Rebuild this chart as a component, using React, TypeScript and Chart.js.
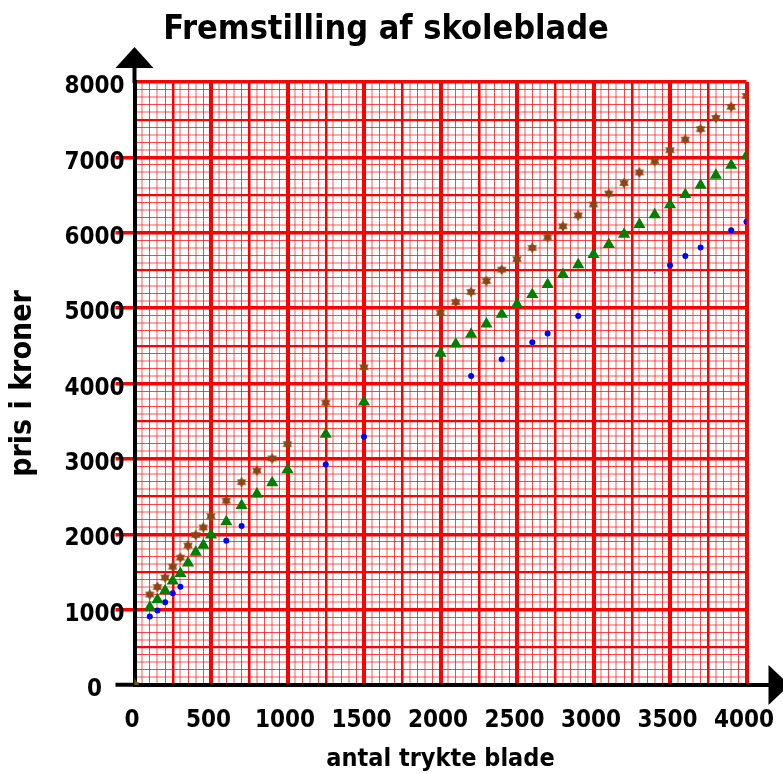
import React, { useEffect, useRef } from "react";
import { Chart, registerables } from "chart.js";

Chart.register(...registerables);

// ---- text ----
const chartTitle = "Fremstilling af skoleblade";
const xAxisTitle = "antal trykte blade";
const yAxisTitle = "pris i kroner";

// ---- axes ----
const xMin = 0;
const xMax = 4000;
const xStep = 50;
const xLabelEvery = 500;
const yMin = 0;
const yMax = 8000;
const yStep = 100;
const yLabelEvery = 1000;

// ---- series: brown stars ----
const starX = [0, 100, 150, 200, 250, 300, 350, 400, 450, 500, 600, 700, 800, 900, 1000, 1250, 1500,
  2000, 2100, 2200, 2300, 2400, 2500, 2600, 2700, 2800, 2900, 3000, 3100, 3200, 3300, 3400, 3500,
  3600, 3700, 3800, 3900, 4000];
const starY = [0, 1200, 1300, 1425, 1570, 1690, 1850, 1990, 2090, 2240, 2445, 2690, 2845, 3005, 3195, 3745, 4215,
  4940, 5080, 5215, 5360, 5510, 5650, 5800, 5940, 6085, 6230, 6375, 6520, 6660, 6800, 6950, 7095,
  7237, 7375, 7524, 7670, 7815];

// ---- series: green triangles ----
const triX = [0, 100, 150, 200, 250, 300, 350, 400, 450, 500, 600, 700, 800, 900, 1000, 1250, 1500,
  2000, 2100, 2200, 2300, 2400, 2500, 2600, 2700, 2800, 2900, 3000, 3100, 3200, 3300, 3400, 3500,
  3600, 3700, 3800, 3900, 4000];
const triY = [0, 1030, 1130, 1250, 1380, 1480, 1620, 1760, 1855, 1990, 2165, 2380, 2533, 2683, 2855, 3327, 3753,
  4400, 4523, 4655, 4790, 4920, 5053, 5181, 5314, 5447, 5575, 5712, 5845, 5980, 6110, 6240, 6370,
  6508, 6631, 6764, 6897, 7020];

// ---- series: blue dots ----
const dotX = [100, 150, 200, 250, 300, 600, 700, 1250, 1500, 2200, 2400, 2600, 2700, 2900, 3500, 3600, 3700, 3900, 4000];
const dotY = [910, 990, 1097, 1216, 1304, 1914, 2109, 2927, 3293, 4098, 4322, 4547, 4664, 4894, 5570, 5690, 5805, 6032, 6145];

// ---- series: tiny specks ----
const speckX = [2000, 2100, 3400];
const speckY = [3870, 3980, 5468];

const toPoints = (xs: number[], ys: number[]) => xs.map((x, i) => ({ x, y: ys[i] }));

const family = '"DejaVu Sans Condensed", "DejaVu Sans", sans-serif';

const RED = "#ff0000";
const FINE_RED = "rgba(255,0,0,0.72)";
const FINE_PINK = "rgba(255,0,0,0.33)";

function makeStar(r: number, fill: string): HTMLCanvasElement {
  const c = document.createElement("canvas");
  const s = Math.ceil(r * 2 + 2);
  c.width = s;
  c.height = s;
  const g = c.getContext("2d")!;
  const cx = s / 2;
  const cy = s / 2;
  g.fillStyle = fill;
  [-Math.PI / 2, Math.PI / 2].forEach((start) => {
    g.beginPath();
    for (let k = 0; k < 3; k++) {
      const a = start + (k * 2 * Math.PI) / 3;
      const px = cx + r * Math.cos(a);
      const py = cy + r * Math.sin(a);
      if (k === 0) g.moveTo(px, py);
      else g.lineTo(px, py);
    }
    g.closePath();
    g.fill();
  });
  return c;
}

function xGridColor(c: any) {
  const v = c.tick ? c.tick.value : 0;
  if (v === 0) return "rgba(0,0,0,0)";
  if (v % 250 === 0) return RED;
  const i = Math.round((v % 250) / 50);
  return i % 2 ? FINE_PINK : FINE_RED;
}
function xGridWidth(c: any) {
  const v = c.tick ? c.tick.value : 0;
  if (v % 500 === 0) return 4;
  if (v % 250 === 0) return 2.5;
  const i = Math.round((v % 250) / 50);
  return i % 2 ? 2 : 1;
}
function yGridColor(c: any) {
  const v = c.tick ? c.tick.value : 0;
  if (v === 0) return "rgba(0,0,0,0)";
  if (v % 500 === 0) return RED;
  const i = Math.round((v % 500) / 100);
  return i % 2 ? FINE_PINK : FINE_RED;
}
function yGridWidth(c: any) {
  const v = c.tick ? c.tick.value : 0;
  if (v % 1000 === 0) return 3.5;
  if (v % 500 === 0) return 2.2;
  const i = Math.round((v % 500) / 100);
  return i % 2 ? 2 : 1;
}
function yTickColor(c: any) {
  const v = c.tick ? c.tick.value : -1;
  if (v === 0) return "#000";
  if (v % 1000 === 0 && v < yMax) return RED;
  return "rgba(0,0,0,0)";
}
function yTickWidth(c: any) {
  const v = c.tick ? c.tick.value : -1;
  return v === 0 ? 4 : 3.5;
}
function xLabelOffset(c: any) {
  const v = c.tick ? c.tick.value : 0;
  return v === xMax ? -7 : -2.5;
}

const axisArrows = {
  id: "axisArrows",
  beforeDatasetsDraw(chart: any) {
    const { ctx, chartArea, scales } = chart;
    const x0 = scales.x.getPixelForValue(0);
    const y0 = scales.y.getPixelForValue(0);
    ctx.save();
    ctx.strokeStyle = "#000";
    ctx.fillStyle = "#000";
    ctx.lineWidth = 4;
    ctx.beginPath();
    ctx.moveTo(x0, chartArea.top + 1);
    ctx.lineTo(x0, chartArea.top - 15);
    ctx.stroke();
    ctx.beginPath();
    ctx.moveTo(x0, chartArea.top - 35);
    ctx.lineTo(x0 - 19, chartArea.top - 14);
    ctx.lineTo(x0 + 19, chartArea.top - 14);
    ctx.closePath();
    ctx.fill();
    ctx.beginPath();
    ctx.moveTo(chartArea.right - 1, y0);
    ctx.lineTo(chartArea.right + 23, y0);
    ctx.stroke();
    ctx.beginPath();
    ctx.moveTo(chartArea.right + 43, y0);
    ctx.lineTo(chartArea.right + 22, y0 - 20);
    ctx.lineTo(chartArea.right + 22, y0 + 20);
    ctx.closePath();
    ctx.fill();
    ctx.restore();
  },
};

export default function App() {
  const ref = useRef<HTMLCanvasElement | null>(null);
  useEffect(() => {
    document.body.style.margin = "0";
    const canvas = ref.current;
    if (!canvas) return;
    const star = makeStar(5.6, "rgb(139,69,19)");
    const chart = new Chart(canvas, {
      type: "scatter",
      data: {
        datasets: [
          {
            label: "stjerner",
            data: toPoints(starX, starY),
            pointStyle: star as any,
            pointRadius: 5.6,
            backgroundColor: "rgb(139,69,19)",
            borderColor: "rgb(139,69,19)",
          },
          {
            label: "trekanter",
            data: toPoints(triX, triY),
            pointStyle: "triangle",
            pointRadius: 7,
            backgroundColor: "rgb(0,128,0)",
            borderColor: "rgb(0,128,0)",
            borderWidth: 0,
          },
          {
            label: "prikker",
            data: toPoints(dotX, dotY),
            pointStyle: "circle",
            pointRadius: 3,
            backgroundColor: "rgb(0,0,255)",
            borderColor: "rgb(0,0,255)",
            borderWidth: 0,
          },
          {
            label: "små prikker",
            data: toPoints(speckX, speckY),
            pointStyle: "circle",
            pointRadius: 0.8,
            backgroundColor: "rgb(90,40,220)",
            borderWidth: 0,
          },
        ],
      },
      options: {
        responsive: false,
        animation: false,
        devicePixelRatio: 1,
        layout: { padding: { top: 0, right: 11, bottom: 0, left: 0 } },
        plugins: {
          legend: { display: false },
          tooltip: { enabled: false },
          title: {
            display: true,
            text: chartTitle,
            color: "#000",
            font: { family, size: 34, weight: "bold", lineHeight: 1.2 },
            padding: { top: 9.6, bottom: 31.6 },
          },
        },
        scales: {
          x: {
            type: "linear",
            position: "bottom",
            min: xMin,
            max: xMax,
            afterFit: (s: any) => {
              s.height = 89;
              s.paddingLeft = 0;
              s.paddingRight = 36.5;
            },
            ticks: {
              stepSize: xStep,
              autoSkip: false,
              maxRotation: 0,
              minRotation: 0,
              callback: (v: any) => (Number(v) % xLabelEvery === 0 ? String(v) : ""),
              color: "#000",
              font: { family, size: 24, weight: "bold" },
              padding: 0,
              labelOffset: xLabelOffset,
            },
            grid: {
              color: xGridColor,
              lineWidth: xGridWidth,
              drawTicks: true,
              tickLength: 21,
              tickColor: "rgba(0,0,0,0)",
            },
            border: { display: true, color: "#000", width: 4 },
            title: {
              display: true,
              text: xAxisTitle,
              color: "#000",
              font: { family, size: 25, weight: "bold" },
              padding: { top: 0, bottom: 0 },
            },
          },
          y: {
            type: "linear",
            position: "left",
            min: yMin,
            max: yMax,
            afterFit: (s: any) => {
              s.width = 134.5;
            },
            ticks: {
              stepSize: yStep,
              autoSkip: false,
              callback: (v: any) => (Number(v) % yLabelEvery === 0 ? String(v) : ""),
              color: "#000",
              font: { family, size: 24, weight: "bold" },
              padding: -9,
              crossAlign: "center",
              labelOffset: 5,
            },
            grid: {
              color: yGridColor,
              lineWidth: yGridWidth,
              drawTicks: true,
              tickLength: 19,
              tickColor: yTickColor,
              tickWidth: yTickWidth,
            },
            border: { display: true, color: "#000", width: 4 },
            title: {
              display: true,
              text: yAxisTitle,
              color: "#000",
              font: { family, size: 30, weight: "bold" },
              padding: { top: 5, bottom: 0 },
            },
          },
        },
      },
      plugins: [axisArrows],
    } as any);
    return () => chart.destroy();
  }, []);
  return (
    <div style={{ width: 783, height: 774 }}>
      <canvas ref={ref} width={783} height={774} style={{ display: "block" }} />
    </div>
  );
}
